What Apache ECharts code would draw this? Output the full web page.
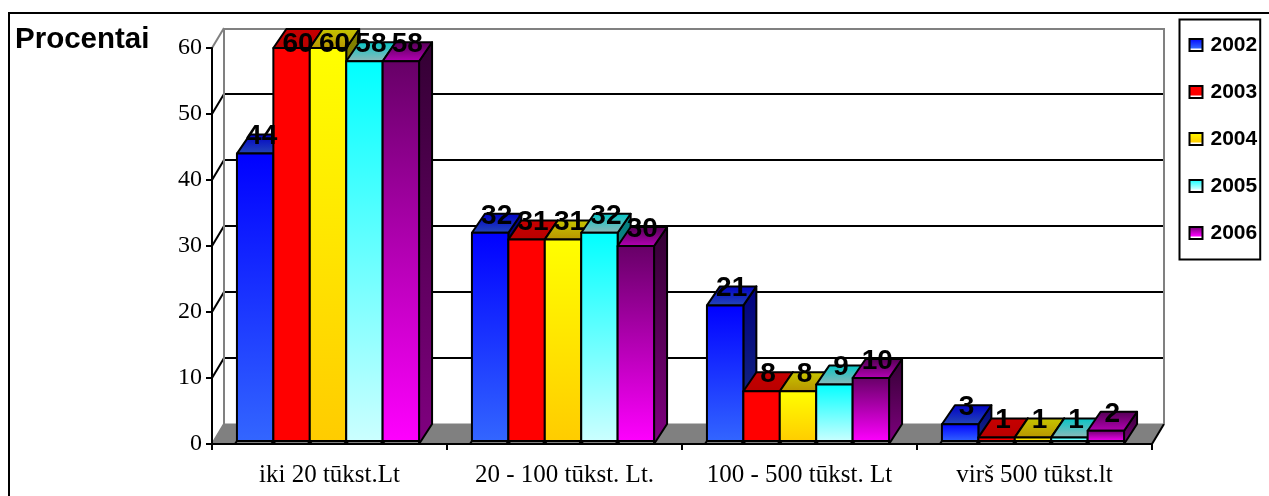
<!DOCTYPE html>
<html>
<head>
<meta charset="utf-8">
<style>html,body{margin:0;padding:0;background:#fff}#chart{width:1269px;height:496px}</style>
<script src="https://cdn.jsdelivr.net/npm/echarts@6/dist/echarts.min.js"></script>
</head>
<body>
<div id="chart"></div>
<script>
// Income groups and yearly shares, in percent
const categories = ['iki 20 tūkst.Lt', '20 - 100 tūkst. Lt.', '100 - 500 tūkst. Lt', 'virš 500 tūkst.lt'];
const years = ['2002', '2003', '2004', '2005', '2006'];
const values2002 = [44, 32, 21, 3];
const values2003 = [60, 31, 8, 1];
const values2004 = [60, 31, 8, 1];
const values2005 = [58, 32, 9, 1];
const values2006 = [58, 30, 10, 2];
const yTicks = [0, 10, 20, 30, 40, 50, 60];

const allValues = [values2002, values2003, values2004, values2005, values2006];

// Front-face gradient of each year: colour at the top, colour at the bottom
const shades = [
  ['#0000ff', '#3366ff'],
  ['#ff0000', '#ff0000'],
  ['#ffff00', '#ffcc00'],
  ['#00ffff', '#ccffff'],
  ['#660066', '#ff00ff']
];

const DEPTH_X = 13;      // oblique projection of the bar depth
const DEPTH_Y = 19;
const WALL_X = 12;       // oblique projection of the back wall
const WALL_Y = 20;
const BAR_SHARE = 0.155; // bar width as a share of the category band
const LABEL_TOP = 44;    // data labels stay below this line

function darken(hex, f) {
  const n = parseInt(hex.slice(1), 16);
  const c = [(n >> 16) & 255, (n >> 8) & 255, n & 255].map(v => Math.round(v * f));
  return 'rgb(' + c.join(',') + ')';
}
function vertical(top, bottom) {
  return new echarts.graphic.LinearGradient(0, 0, 0, 1, [
    { offset: 0, color: top }, { offset: 1, color: bottom }
  ]);
}

// Back wall, floor and the grid lines projected onto the wall
function renderBackdrop(params, api) {
  const tick = api.value(1);
  const rect = params.coordSys;
  const L = rect.x, R = rect.x + rect.width;
  const y = api.coord([0, tick])[1];
  const children = [];
  if (tick === 0) {
    children.push({
      type: 'polygon',
      shape: { points: [[L, y], [L + WALL_X, y - WALL_Y], [R + WALL_X, y - WALL_Y], [R, y]] },
      style: { fill: '#808080', stroke: '#808080', lineWidth: 1 }
    });
    children.push({
      type: 'line',
      shape: { x1: R, y1: y, x2: R + WALL_X, y2: y - WALL_Y },
      style: { stroke: '#000', lineWidth: 2 }
    });
    children.push({
      type: 'line',
      shape: { x1: L, y1: y, x2: L + WALL_X, y2: y - WALL_Y },
      style: { stroke: '#808080', lineWidth: 2 }
    });
  } else if (tick === 60) {
    const floorY = api.coord([0, 0])[1] - WALL_Y;
    children.push({
      type: 'polyline',
      shape: { points: [[L + WALL_X, floorY], [L + WALL_X, y - WALL_Y + 1], [R + WALL_X, y - WALL_Y + 1], [R + WALL_X, floorY]] },
      style: { fill: 'none', stroke: '#808080', lineWidth: 2 }
    });
    children.push({
      type: 'line',
      shape: { x1: L, y1: y, x2: L + WALL_X, y2: y - WALL_Y },
      style: { stroke: '#808080', lineWidth: 2 }
    });
  } else {
    children.push({
      type: 'line',
      shape: { x1: L + WALL_X, y1: y - WALL_Y, x2: R + WALL_X, y2: y - WALL_Y },
      style: { stroke: '#000', lineWidth: 2 }
    });
    children.push({
      type: 'line',
      shape: { x1: L, y1: y, x2: L + WALL_X, y2: y - WALL_Y },
      style: { stroke: '#000', lineWidth: 2 }
    });
  }
  return { type: 'group', children };
}

// One bar drawn as front, top and side faces, with its value above
function barRenderer(index) {
  const [cTop, cBottom] = shades[index];
  return function (params, api) {
    const cat = api.value(0), val = api.value(1);
    const top = api.coord([cat, val]);
    const base = api.coord([cat, 0])[1];
    const w = api.size([1, 0])[0] * BAR_SHARE;
    const x0 = top[0] - 1.5 + (index - 2.5) * w;
    const x1 = x0 + w;
    const yT = top[1];
    const yB = base - 3;
    const stroke = { stroke: '#000', lineWidth: 2, lineJoin: 'round' };
    return {
      type: 'group',
      children: [
        {
          type: 'polygon',
          shape: { points: [[x1, yT], [x1 + DEPTH_X, yT - DEPTH_Y], [x1 + DEPTH_X, base - 20], [x1, base]] },
          style: Object.assign({ fill: vertical(darken(cTop, 0.5), darken(cBottom, 0.5)) }, stroke)
        },
        {
          type: 'polygon',
          shape: { points: [[x0, yT], [x0 + DEPTH_X, yT - DEPTH_Y], [x1 + DEPTH_X, yT - DEPTH_Y], [x1, yT]] },
          style: Object.assign({ fill: vertical(darken(cTop, 0.78), darken(cBottom, 0.72)) }, stroke)
        },
        {
          type: 'rect',
          shape: { x: x0, y: yT, width: w, height: Math.max(yB - yT, 1) },
          style: Object.assign({ fill: vertical(cTop, cBottom) }, stroke)
        },
        {
          type: 'line',
          shape: { x1: x0, y1: yB, x2: x0 - 2, y2: base },
          style: { stroke: '#000', lineWidth: 2 }
        },
        {
          type: 'text',
          z2: 100,
          style: {
            text: String(val),
            x: x0 + w / 2 + DEPTH_X / 2,
            y: Math.max(yT - 17, LABEL_TOP),
            align: 'center',
            verticalAlign: 'middle',
            font: 'bold 28px "Liberation Sans"',
            fill: '#000'
          }
        }
      ]
    };
  };
}

const series = [{
  type: 'custom',
  name: 'wall',
  silent: true,
  encode: { x: 0, y: 1 },
  data: yTicks.map(t => [0, t]),
  renderItem: renderBackdrop
}].concat(years.map((year, i) => ({
  type: 'custom',
  name: year,
  encode: { x: 0, y: 1 },
  data: allValues[i].map((v, c) => [c, v]),
  renderItem: barRenderer(i)
})));

const legendData = years.map((year, i) => ({
  name: year,
  icon: 'rect',
  itemStyle: {
    color: new echarts.graphic.LinearGradient(0, 0, 0, 1, [
      { offset: 0, color: shades[i][0] },
      { offset: 0.72, color: shades[i][1] },
      { offset: 0.78, color: '#fff' },
      { offset: 1, color: '#fff' }
    ]),
    borderColor: '#000',
    borderWidth: 2
  }
}));

const chart = echarts.init(document.getElementById('chart'), null, { renderer: 'canvas' });
chart.setOption({
  animation: false,
  backgroundColor: '#fff',
  title: {
    text: 'Procentai',
    left: 15,
    top: 25,
    padding: 0,
    textStyle: { fontFamily: 'Liberation Sans', fontWeight: 'bold', fontSize: 29.5, color: '#000' }
  },
  legend: {
    data: legendData,
    orient: 'vertical',
    left: 1179.5,
    top: 19.5,
    padding: [15, 3, 16, 9],
    itemWidth: 13,
    itemHeight: 12,
    itemGap: 26,
    borderColor: '#000',
    borderWidth: 2,
    selectedMode: false,
    textStyle: { fontFamily: 'Liberation Sans', fontWeight: 'bold', fontSize: 21, color: '#000', padding: [0, 0, 0, 3] }
  },
  graphic: [{
    type: 'rect',
    silent: true,
    shape: { x: 9, y: 13, width: 1400, height: 600 },
    style: { fill: 'none', stroke: '#000', lineWidth: 2 }
  }],
  grid: { left: 212, right: 117, top: 48, bottom: 52 },
  xAxis: {
    type: 'category',
    data: categories,
    z: 5,
    axisLine: { lineStyle: { color: '#000', width: 2 } },
    axisTick: { show: true, interval: 0, alignWithLabel: false, length: 6, lineStyle: { color: '#000', width: 2 } },
    axisLabel: { interval: 0, hideOverlap: false, fontFamily: 'Liberation Serif', fontSize: 25, color: '#000', margin: 19 },
    splitLine: { show: false }
  },
  yAxis: {
    type: 'value',
    min: 0,
    max: 60,
    interval: 10,
    z: 5,
    axisLine: { show: true, lineStyle: { color: '#000', width: 2 } },
    axisTick: { show: true, length: 6, lineStyle: { color: '#000', width: 2 } },
    axisLabel: { fontFamily: 'Liberation Serif', fontSize: 24, color: '#000', margin: 10 },
    splitLine: { show: false }
  },
  series: series
});
</script>
</body>
</html>
